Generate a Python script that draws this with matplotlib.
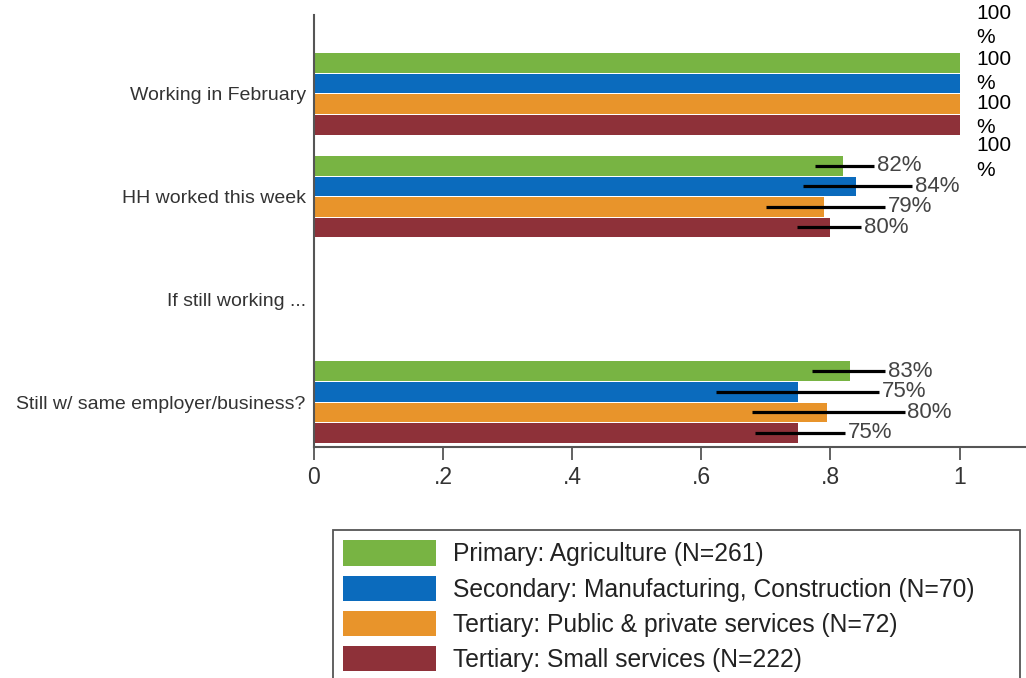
import matplotlib
matplotlib.use("Agg")
import matplotlib.pyplot as plt
import numpy as np
from matplotlib.patches import Patch, Rectangle

plt.rcParams["font.family"] = ["Liberation Sans", "DejaVu Sans"]

# Data
questions = ["Working in February", "HH worked this week",
             "If still working ...", "Still w/ same employer/business?"]
sectors = ["Primary: Agriculture (N=261)",
           "Secondary: Manufacturing, Construction (N=70)",
           "Tertiary: Public & private services (N=72)",
           "Tertiary: Small services (N=222)"]
colors = ["#78B443", "#0B6BBD", "#E8942B", "#8E3139"]

# values per sector, per question (None = no bar)
values = [
    [1.00, 0.82, None, 0.83],
    [1.00, 0.84, None, 0.75],
    [1.00, 0.79, None, 0.795],
    [1.00, 0.80, None, 0.75],
]
ci_low = [
    [None, 0.776, None, 0.771],
    [None, 0.758, None, 0.622],
    [None, 0.700, None, 0.678],
    [None, 0.748, None, 0.683],
]
ci_high = [
    [None, 0.868, None, 0.885],
    [None, 0.926, None, 0.876],
    [None, 0.885, None, 0.915],
    [None, 0.848, None, 0.822],
]
labels = [
    ["100\n%", "82%", None, "83%"],
    ["100\n%", "84%", None, "75%"],
    ["100\n%", "79%", None, "80%"],
    ["100\n%", "80%", None, "75%"],
]

fig = plt.figure(figsize=(10.26, 6.78), dpi=100)
ax = fig.add_axes([314 / 1026, 1 - 447 / 678, 1 - 314 / 1026, 432 / 678])

text_col = "#333333"
step = 0.2
bar_h = 0.19
y = np.arange(len(questions))
# offsets for the 100% labels that sit to the right of the plot (points)
top_offsets = [27, 9, -8, -24]

for s in range(len(sectors)):
    off = (s - 1.5) * step
    for q in range(len(questions)):
        v = values[s][q]
        if v is None:
            continue
        yy = y[q] + off
        ax.barh(yy, v, height=bar_h, color=colors[s], zorder=2)
        if ci_low[s][q] is not None:
            ax.plot([ci_low[s][q], ci_high[s][q]], [yy, yy], color="black",
                    lw=2.3, solid_capstyle="butt", zorder=3)
            ax.annotate(labels[s][q], (ci_high[s][q], yy),
                        textcoords="offset points", xytext=(2, 0),
                        ha="left", va="center", fontsize=16, color="#444444")
        else:
            ax.annotate(labels[s][q], (1.0, yy), textcoords="offset points",
                        xytext=(12, top_offsets[s]), ha="left", va="center",
                        fontsize=15, color="black", linespacing=1.35,
                        annotation_clip=False)

ax.set_xlim(0, 1.103)
ax.set_ylim(3.438, -0.769)
ax.set_yticks(y)
ax.set_yticklabels(questions, fontsize=14, color=text_col)
ax.tick_params(axis="y", length=0, pad=6)
ax.set_xticks([0, 0.2, 0.4, 0.6, 0.8, 1.0])
ax.set_xticklabels(["0", ".2", ".4", ".6", ".8", "1"], fontsize=16.5, color=text_col)
ax.tick_params(axis="x", length=9, width=1.3, color="#555555", pad=5)

for side in ["top", "right"]:
    ax.spines[side].set_visible(False)
for side in ["left", "bottom"]:
    ax.spines[side].set_color("#555555")
    ax.spines[side].set_linewidth(1.5)

# legend frame drawn separately so it can be as wide as in the original
fig.patches.append(Rectangle((333 / 1026, -0.02), (1020 - 333) / 1026,
                             1 - 530 / 678 + 0.02, transform=fig.transFigure,
                             facecolor="white", edgecolor="#555555", lw=1.3,
                             zorder=0))

handles = [Patch(facecolor=c, edgecolor="none") for c in colors]
leg = fig.legend(handles, sectors, loc="upper left",
                 bbox_to_anchor=(336 / 1026, 1 - 533 / 678),
                 fontsize=17.7, frameon=False,
                 handlelength=3.75, handleheight=1.2,
                 labelspacing=0.38, borderpad=0.3, handletextpad=0.72,
                 borderaxespad=0)
for t in leg.get_texts():
    t.set_color("#222222")

fig.savefig("out.png", dpi=100, facecolor="white")
